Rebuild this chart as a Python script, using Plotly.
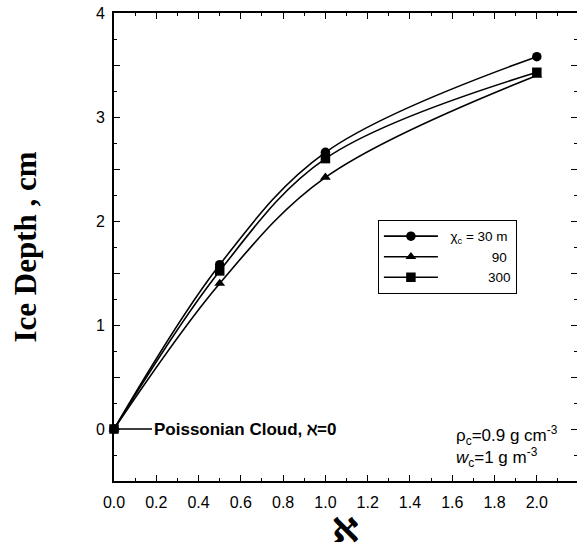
import plotly.graph_objects as go

# Cloud parameter (aleph) values at which ice depth was computed
aleph = [0.0, 0.5, 1.0, 2.0]

# Ice depth (cm) for each correlation length
depth_30m = [0.0, 1.58, 2.66, 3.58]
depth_90m = [0.0, 1.40, 2.42, 3.40]
depth_300m = [0.0, 1.52, 2.60, 3.43]

series_names = ["  χ<sub>c</sub> = 30 m", "             90", "            300"]
series_symbols = ["circle", "triangle-up", "square"]

x_tick_vals = [0.0, 0.2, 0.4, 0.6, 0.8, 1.0, 1.2, 1.4, 1.6, 1.8, 2.0]
x_tick_text = ["0.0", "0.2", "0.4", "0.6", "0.8", "1.0", "1.2", "1.4", "1.6", "1.8", "2.0"]
y_tick_vals = [-0.5, 0, 0.5, 1, 1.5, 2, 2.5, 3, 3.5, 4]
y_tick_text = ["", "0", "", "1", "", "2", "", "3", "", "4"]

fig = go.Figure()
for name, sym, ys in zip(series_names, series_symbols, [depth_30m, depth_90m, depth_300m]):
    fig.add_trace(go.Scatter(
        x=aleph, y=ys, name=name, mode="lines+markers",
        line=dict(color="black", width=1.6, shape="spline", smoothing=1.0),
        marker=dict(symbol=sym, size=9.5, color="black"),
        cliponaxis=False,
    ))

tick_font = dict(family="Liberation Sans, Arial", size=16, color="black")

fig.update_layout(
    width=577, height=550,
    margin=dict(l=114, r=0, t=13, b=69),
    paper_bgcolor="white", plot_bgcolor="white",
    showlegend=True,
    legend=dict(
        x=0.57, y=0.558, xanchor="left", yanchor="top",
        bordercolor="black", borderwidth=1, bgcolor="white",
        font=dict(family="Liberation Sans, Arial", size=13.5, color="black"),
        itemwidth=54, tracegroupgap=0,
    ),
    xaxis=dict(
        range=[0, 2.19], tickvals=x_tick_vals, ticktext=x_tick_text,
        ticks="inside", ticklen=6, tickwidth=1.2, tickcolor="black",
        showline=True, linecolor="black", linewidth=1.8, mirror="ticks",
        showgrid=False, zeroline=False, tickfont=tick_font,
        ticklabelposition="outside", ticklabelstandoff=6,
        minor=dict(dtick=0.1, ticks="inside", ticklen=3, tickcolor="black"),
        title=dict(text="<b>ℵ</b>", font=dict(family="DejaVu Sans", size=34, color="black"), standoff=13),
    ),
    yaxis=dict(
        range=[-0.5, 4], tickvals=y_tick_vals, ticktext=y_tick_text,
        ticks="inside", ticklen=6, tickwidth=1.2, tickcolor="black",
        showline=True, linecolor="black", linewidth=1.8, mirror=False,
        showgrid=False, zeroline=False, tickfont=tick_font, ticklabelstandoff=4,
        minor=dict(dtick=0.25, ticks="inside", ticklen=3, tickcolor="black"),
        title=dict(text="<b>Ice Depth , cm</b>", font=dict(family="Liberation Serif, Times New Roman", size=31, color="black"), standoff=50),
    ),
    # right-hand tick marks without an axis line
    yaxis2=dict(
        overlaying="y", side="right", matches="y", range=[-0.5, 4],
        tickvals=y_tick_vals, ticks="inside", ticklen=6, tickwidth=1.2, tickcolor="black",
        showticklabels=False, showline=False, showgrid=False, zeroline=False,
        minor=dict(dtick=0.25, ticks="inside", ticklen=3, tickcolor="black"),
    ),
)

# invisible trace so the right-hand axis is drawn
fig.add_trace(go.Scatter(x=[], y=[], yaxis="y2", showlegend=False, hoverinfo="skip"))

fig.add_annotation(
    x=0, y=0, xref="x", yref="y",
    text="<b>Poissonian Cloud, ℵ=0</b>",
    showarrow=True, arrowhead=0, arrowwidth=1.4, arrowcolor="black",
    ax=38, ay=0, xanchor="left",
    font=dict(family="Liberation Sans, Arial", size=17, color="black"),
)

fig.add_annotation(
    x=0.735, y=0.02, xref="paper", yref="paper",
    xanchor="left", yanchor="bottom", align="left", showarrow=False,
    text="ρ<sub>c</sub>=0.9 g cm<sup>-3</sup><br><i>w</i><sub>c</sub>=1 g m<sup>-3</sup>",
    font=dict(family="Liberation Sans, Arial", size=17, color="black"),
)

fig.write_html("out.html")
